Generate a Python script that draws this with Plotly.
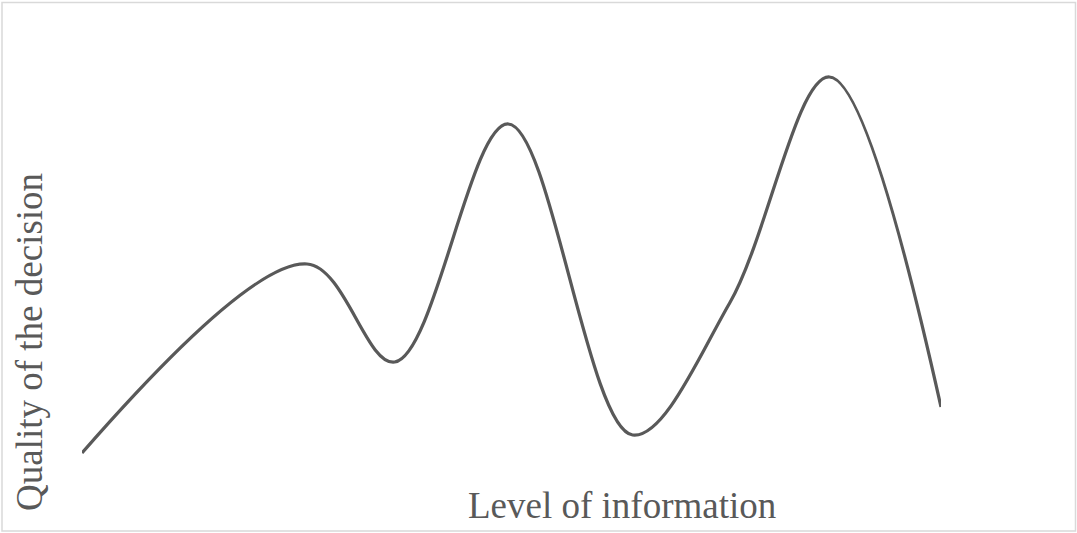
import plotly.graph_objects as go

# Data (arbitrary units)
level = [0.0, 2.62, 3.64, 4.96, 6.41, 7.54, 8.70, 10.0]
quality = [1.75, 49.0, 24.5, 84.0, 6.25, 39.25, 95.75, 13.25]

x_title = "Level of information"
y_title = "Quality of the decision"

W, H = 1077, 533
L, R, T, B = 82, 136, 60, 73

fig = go.Figure()
fig.add_trace(go.Scatter(
    x=level, y=quality, mode="lines",
    line=dict(color="#595959", width=3.25, shape="spline", smoothing=1.0),
    hoverinfo="skip", showlegend=False,
))

fig.update_layout(
    width=W, height=H,
    margin=dict(l=L, r=R, t=T, b=B),
    paper_bgcolor="white", plot_bgcolor="white",
    showlegend=False,
    xaxis=dict(range=[0, 10], visible=False, fixedrange=True),
    yaxis=dict(range=[0, 100], visible=False, fixedrange=True),
    shapes=[dict(type="rect", xref="paper", yref="paper",
                 x0=-(L - 2) / (W - L - R), x1=1 + (R - 1.5) / (W - L - R),
                 y0=-(B - 2) / (H - T - B), y1=1 + (T - 2.5) / (H - T - B),
                 line=dict(color="#d9d9d9", width=1.5), fillcolor="rgba(0,0,0,0)")],
    annotations=[
        dict(text=x_title, xref="paper", yref="paper",
             x=(622 - L) / (W - L - R), y=-(505 - (H - B)) / (H - T - B),
             xanchor="center", yanchor="middle", showarrow=False,
             font=dict(family="Liberation Serif", size=37, color="#595959")),
        dict(text=y_title, xref="paper", yref="paper", textangle=-90,
             x=-(L - 29) / (W - L - R), y=(H - B - 342) / (H - T - B),
             xanchor="center", yanchor="middle", showarrow=False,
             font=dict(family="Liberation Serif", size=37, color="#595959")),
    ],
)

fig.write_html("out.html", config={"displayModeBar": False},
               post_script="document.body.style.margin='0';document.body.style.overflow='hidden';")
